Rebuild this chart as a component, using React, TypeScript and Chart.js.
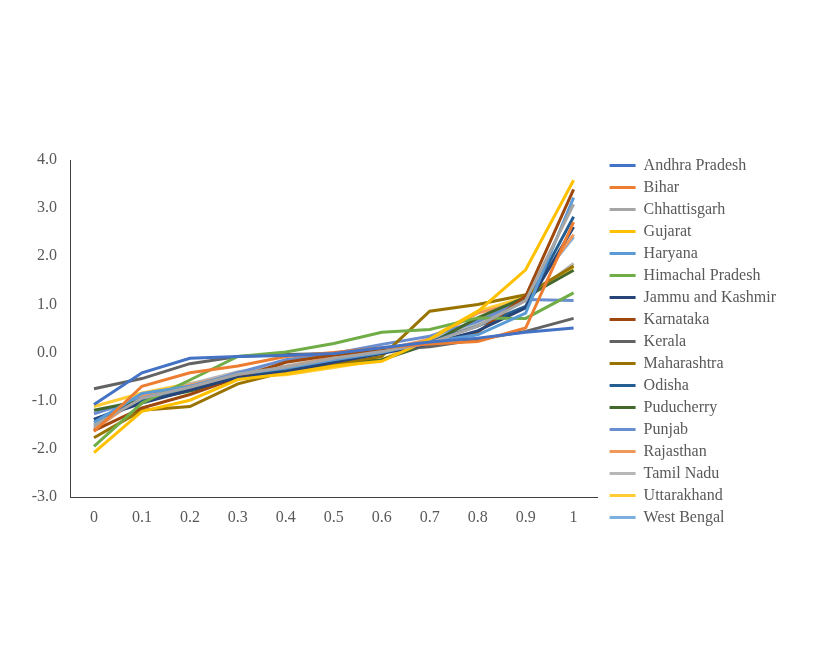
import React, { useEffect, useRef } from 'react';
import { Chart, registerables } from 'chart.js';

Chart.register(...registerables);

const categories = ['0', '0.1', '0.2', '0.3', '0.4', '0.5', '0.6', '0.7', '0.8', '0.9', '1'];

const states = [
  'Andhra Pradesh', 'Bihar', 'Chhattisgarh', 'Gujarat', 'Haryana', 'Himachal Pradesh',
  'Jammu and Kashmir', 'Karnataka', 'Kerala', 'Maharashtra', 'Odisha', 'Puducherry',
  'Punjab', 'Rajasthan', 'Tamil Nadu', 'Uttarakhand', 'West Bengal',
];

const colors = [
  '#4472C4', '#ED7D31', '#A5A5A5', '#FFC000', '#5B9BD5', '#70AD47',
  '#264478', '#9E480E', '#636363', '#997300', '#255E91', '#43682B',
  '#698ED0', '#F1975A', '#B7B7B7', '#FFCD33', '#7CAFDD',
];

const andhraPradesh = [-1.08, -0.42, -0.12, -0.08, -0.06, -0.02, 0.10, 0.22, 0.30, 0.42, 0.51];
const bihar = [-1.64, -0.70, -0.42, -0.28, -0.08, 0.00, 0.10, 0.18, 0.23, 0.51, 2.71];
const chhattisgarh = [-1.52, -0.95, -0.72, -0.45, -0.30, -0.12, 0.02, 0.20, 0.55, 1.08, 3.08];
const gujarat = [-2.08, -1.22, -0.99, -0.56, -0.44, -0.28, -0.18, 0.28, 0.85, 1.72, 3.58];
const haryana = [-1.45, -0.85, -0.70, -0.45, -0.32, -0.15, 0.00, 0.22, 0.37, 0.82, 3.22];
const himachalPradesh = [-1.95, -1.05, -0.57, -0.08, 0.01, 0.19, 0.42, 0.48, 0.72, 0.71, 1.24];
const jammuKashmir = [-1.39, -1.05, -0.78, -0.52, -0.40, -0.20, -0.02, 0.18, 0.45, 0.93, 2.61];
const karnataka = [-1.62, -1.15, -0.87, -0.52, -0.20, -0.05, 0.05, 0.20, 0.42, 1.17, 3.39];
const kerala = [-0.75, -0.54, -0.23, -0.08, -0.04, -0.02, 0.05, 0.12, 0.27, 0.44, 0.71];
const maharashtra = [-1.77, -1.20, -1.12, -0.65, -0.40, -0.25, -0.08, 0.86, 1.00, 1.20, 1.80];
const odisha = [-1.39, -1.00, -0.75, -0.50, -0.37, -0.18, 0.00, 0.22, 0.55, 0.96, 2.82];
const puducherry = [-1.20, -1.00, -0.80, -0.55, -0.37, -0.22, -0.15, 0.18, 0.72, 1.15, 1.71];
const punjab = [-1.27, -0.95, -0.72, -0.42, -0.15, -0.02, 0.17, 0.34, 0.65, 1.10, 1.08];
const rajasthan = [-1.60, -0.90, -0.68, -0.45, -0.30, -0.10, 0.05, 0.28, 0.82, 1.08, 2.45];
const tamilNadu = [-1.50, -0.92, -0.65, -0.40, -0.28, -0.10, 0.05, 0.25, 0.58, 1.10, 1.85];
const uttarakhand = [-1.12, -0.84, -0.64, -0.50, -0.46, -0.31, -0.15, 0.30, 0.86, 1.15, 1.78];
const westBengal = [-1.56, -0.88, -0.70, -0.42, -0.30, -0.12, 0.05, 0.25, 0.62, 1.15, 2.40];

const seriesValues = [
  andhraPradesh, bihar, chhattisgarh, gujarat, haryana, himachalPradesh,
  jammuKashmir, karnataka, kerala, maharashtra, odisha, puducherry,
  punjab, rajasthan, tamilNadu, uttarakhand, westBengal,
];

const yTicks = [-3, -2, -1, 0, 1, 2, 3, 4];

const font = { family: "'Liberation Serif', 'Times New Roman', serif", size: 16 };
const textColor = '#595959';

export default function App() {
  const canvasRef = useRef<HTMLCanvasElement | null>(null);

  useEffect(() => {
    document.body.style.margin = '0';
    const ctx = canvasRef.current;
    if (!ctx) return;

    const chart = new Chart(ctx, {
      type: 'line',
      data: {
        labels: categories,
        datasets: states.map((name, i) => ({
          label: name,
          data: seriesValues[i],
          borderColor: colors[i],
          backgroundColor: colors[i],
          borderWidth: 3,
          pointRadius: 0,
          tension: 0,
          xAxisID: 'x',
          yAxisID: 'y',
        })),
      },
      options: {
        animation: false,
        responsive: false,
        layout: { padding: { top: 29, right: 31, bottom: 0, left: 0 } },
        plugins: {
          tooltip: { enabled: false },
          legend: {
            position: 'right',
            labels: {
              usePointStyle: true,
              pointStyle: 'line',
              pointStyleWidth: 26,
              padding: 6,
              color: textColor,
              font,
            },
          },
        },
        scales: {
          x: {
            type: 'category',
            position: 'bottom',
            offset: true,
            grid: { display: false, drawTicks: false },
            border: { display: true, color: '#404040', width: 1 },
            ticks: { color: textColor, font, padding: 11, maxRotation: 0 },
            afterFit: (s: any) => { s.height = 157; },
          },
          xTop: {
            type: 'linear',
            position: 'top',
            display: true,
            grid: { display: false, drawTicks: false },
            border: { display: false },
            ticks: { display: false },
            afterFit: (s: any) => { s.height = 131; },
          },
          y: {
            type: 'linear',
            position: 'left',
            min: -3,
            max: 4,
            grid: { display: false, drawTicks: false },
            border: { display: true, color: '#404040', width: 1 },
            afterBuildTicks: (s: any) => { s.ticks = yTicks.map((v) => ({ value: v })); },
            ticks: {
              color: textColor,
              font,
              padding: 13,
              callback: (v: any) => Number(v).toFixed(1),
            },
            afterFit: (s: any) => { s.width = 70; },
          },
          yRight: {
            type: 'linear',
            position: 'right',
            display: false,
            afterFit: (s: any) => { s.width = 6; },
          },
        },
      },
    });

    return () => {
      chart.destroy();
    };
  }, []);

  return (
    <div style={{ width: 817, height: 654, background: '#fff' }}>
      <canvas ref={canvasRef} width={817} height={654} style={{ display: 'block' }} />
    </div>
  );
}
